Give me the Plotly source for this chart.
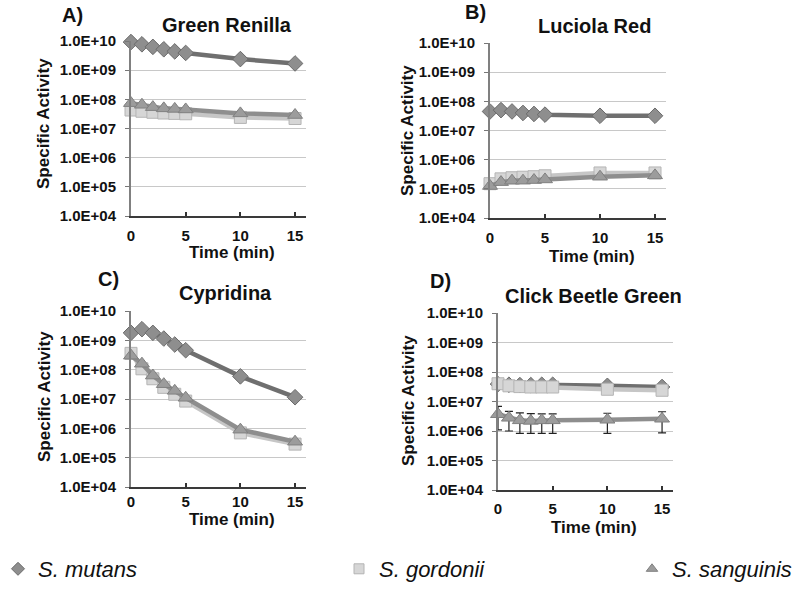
import plotly.graph_objects as go

W, H = 800, 589

time_min = [0, 1, 2, 3, 4, 5, 10, 15]
species = ["S. mutans", "S. gordonii", "S. sanguinis"]
panel_letters = ["A)", "B)", "C)", "D)"]
panel_titles = ["Green Renilla", "Luciola Red", "Cypridina", "Click Beetle Green"]
ytick_vals = [1e4, 1e5, 1e6, 1e7, 1e8, 1e9, 1e10]
ytick_text = ["1.0E+04", "1.0E+05", "1.0E+06", "1.0E+07", "1.0E+08", "1.0E+09", "1.0E+10"]
xtick_vals = [0, 5, 10, 15]

# Panel A - Green Renilla
mutans_A = [9.2e9, 7.7e9, 6.3e9, 5.2e9, 4.4e9, 3.9e9, 2.4e9, 1.7e9]
gordonii_A = [4.3e7, 3.9e7, 3.6e7, 3.4e7, 3.3e7, 3.2e7, 2.4e7, 2.2e7]
sanguinis_A = [7.4e7, 6.5e7, 5.4e7, 4.9e7, 4.7e7, 4.5e7, 3.3e7, 2.9e7]
# Panel B - Luciola Red
mutans_B = [4.5e7, 5.0e7, 4.5e7, 4.0e7, 3.7e7, 3.5e7, 3.2e7, 3.2e7]
gordonii_B = [1.5e5, 2.2e5, 2.4e5, 2.5e5, 2.6e5, 2.8e5, 3.5e5, 3.5e5]
sanguinis_B = [1.25e5, 1.7e5, 1.9e5, 1.9e5, 2.0e5, 2.1e5, 2.6e5, 2.9e5]
# Panel C - Cypridina
mutans_C = [1.8e9, 2.4e9, 1.8e9, 1.15e9, 7.2e8, 4.6e8, 5.9e7, 1.15e7]
gordonii_C = [3.6e8, 1.07e8, 4.9e7, 2.5e7, 1.45e7, 8.5e6, 7.0e5, 2.9e5]
sanguinis_C = [3.0e8, 1.6e8, 6.3e7, 3.2e7, 1.9e7, 1.1e7, 9.0e5, 3.5e5]
# Panel D - Click Beetle Green
mutans_D = [3.9e7, 3.7e7, 3.6e7, 3.6e7, 3.7e7, 3.7e7, 3.4e7, 3.1e7]
gordonii_D = [4.0e7, 3.4e7, 3.2e7, 3.1e7, 3.1e7, 3.1e7, 2.6e7, 2.4e7]
sanguinis_D = [3.7e6, 2.8e6, 2.3e6, 2.2e6, 2.3e6, 2.3e6, 2.4e6, 2.6e6]
sanguinis_D_hi = [6.8e6, 4.6e6, 4.1e6, 3.9e6, 3.8e6, 3.8e6, 4.0e6, 4.5e6]
sanguinis_D_lo = [1.1e6, 1.0e6, 8.3e5, 8.3e5, 8.3e5, 8.3e5, 8.3e5, 8.7e5]

panels = [
    (mutans_A, gordonii_A, sanguinis_A, None),
    (mutans_B, gordonii_B, sanguinis_B, None),
    (mutans_C, gordonii_C, sanguinis_C, None),
    (mutans_D, gordonii_D, sanguinis_D, (sanguinis_D_hi, sanguinis_D_lo)),
]

# pixel boxes of plot areas: (x0, x1, ytop, ybottom)
boxes = [(131, 306, 41, 216), (490, 666, 43, 218), (131, 306, 311, 487), (498, 673, 313, 490)]
xlabel_standoff = [5, 5, 0, 4]

styles = {
    "S. mutans": dict(line="#6f6f6f", fill="#8e8e8e", edge="#6a6a6a", symbol="diamond", size=12),
    "S. gordonii": dict(line="#c6c6c6", fill="#d6d6d6", edge="#b4b4b4", symbol="square", size=12),
    "S. sanguinis": dict(line="#8e8e8e", fill="#9c9c9c", edge="#808080", symbol="triangle-up", size=13),
}

FONT = "Liberation Sans, Arial, Helvetica, sans-serif"
fig = go.Figure()
layout = {}

for i, (data, box) in enumerate(zip(panels, boxes)):
    n = "" if i == 0 else str(i + 1)
    xa, ya = "x" + n, "y" + n
    x0, x1, yt, yb = box
    layout["xaxis" + n] = dict(
        domain=[x0 / W, x1 / W], range=[0, 16], anchor=ya,
        tickvals=xtick_vals, ticks="inside", ticklen=4, tickcolor="#333", tickwidth=1.5,
        showline=True, linecolor="#3a3a3a", linewidth=2, showgrid=False, zeroline=False,
        ticklabelstandoff=xlabel_standoff[i],
        tickfont=dict(family=FONT, size=15, color="#111", weight="bold"),
    )
    layout["yaxis" + n] = dict(
        domain=[(H - yb) / H, (H - yt) / H], type="log", range=[4, 10], anchor=xa,
        tickvals=ytick_vals, ticktext=ytick_text, ticks="outside", ticklen=4, tickcolor="#777",
        showline=True, linecolor="#808080", linewidth=2, showgrid=True, gridcolor="#c8c8c8",
        gridwidth=1, zeroline=False, ticklabelstandoff=6,
        tickfont=dict(family=FONT, size=15, color="#111", weight="bold"),
    )
    mut, gor, san, err = data
    for name, vals in zip(species, [mut, gor, san]):
        st = styles[name]
        kw = {}
        if name == "S. sanguinis" and err is not None:
            hi, lo = err
            kw["error_y"] = dict(type="data", symmetric=False,
                                 array=[h - v for h, v in zip(hi, vals)],
                                 arrayminus=[v - l for v, l in zip(vals, lo)],
                                 color="#222", thickness=1.2, width=4)
        fig.add_trace(go.Scatter(
            x=time_min, y=vals, xaxis=xa, yaxis=ya, mode="lines+markers",
            line=dict(color=st["line"], width=4.5),
            marker=dict(symbol=st["symbol"], size=st["size"], color=st["fill"],
                        line=dict(color=st["edge"], width=1)),
            showlegend=False, cliponaxis=False, **kw))

# Legend entries (one legend each, placed along the bottom)
legend_x = [-2, 339, 632]
for j, name in enumerate(species):
    st = styles[name]
    lg = "legend" if j == 0 else "legend" + str(j + 1)
    fig.add_trace(go.Scatter(
        x=[None], y=[None], mode="markers", name=name, legend=lg,
        marker=dict(symbol=st["symbol"], size=10, color=st["fill"], line=dict(color=st["edge"], width=1)),
        showlegend=True))
    layout[lg] = dict(x=legend_x[j] / W, y=(H - 569) / H, xanchor="left", yanchor="middle",
                      bgcolor="rgba(0,0,0,0)", borderwidth=0,
                      font=dict(family=FONT, size=22, color="#111", style="italic"))

annotations = []
letter_pos = [(72, 15), (475, 12), (108, 279), (440, 281)]
title_pos = [(227, 25), (594, 26), (226, 293), (593, 296)]
ytitle_pos = [(43, 124), (407, 131), (44, 397), (408, 401)]
xtitle_pos = [(232, 252), (592, 256), (232, 519), (594, 527)]
for i in range(4):
    lx, ly = letter_pos[i]
    annotations.append(dict(text=panel_letters[i], x=lx / W, y=(H - ly) / H, xref="paper", yref="paper",
                            showarrow=False, xanchor="center", yanchor="middle",
                            font=dict(family=FONT, size=20, color="#111", weight="bold")))
    tx, ty = title_pos[i]
    annotations.append(dict(text=panel_titles[i], x=tx / W, y=(H - ty) / H, xref="paper", yref="paper",
                            showarrow=False, xanchor="center", yanchor="middle",
                            font=dict(family=FONT, size=20, color="#111", weight="bold")))
    yx, yy = ytitle_pos[i]
    annotations.append(dict(text="Specific Activity", x=yx / W, y=(H - yy) / H, xref="paper", yref="paper",
                            showarrow=False, xanchor="center", yanchor="middle", textangle=-90,
                            font=dict(family=FONT, size=17, color="#111", weight="bold")))
    xx, xy = xtitle_pos[i]
    annotations.append(dict(text="Time (min)", x=xx / W, y=(H - xy) / H, xref="paper", yref="paper",
                            showarrow=False, xanchor="center", yanchor="middle",
                            font=dict(family=FONT, size=17, color="#111", weight="bold")))

fig.update_layout(
    width=W, height=H, margin=dict(l=0, r=0, t=0, b=0, pad=0, autoexpand=False),
    paper_bgcolor="white", plot_bgcolor="white",
    annotations=annotations, **layout)

fig.write_html("out.html", config={"displayModeBar": False},
               post_script="document.body.style.margin='0px';document.body.style.overflow='hidden';")
